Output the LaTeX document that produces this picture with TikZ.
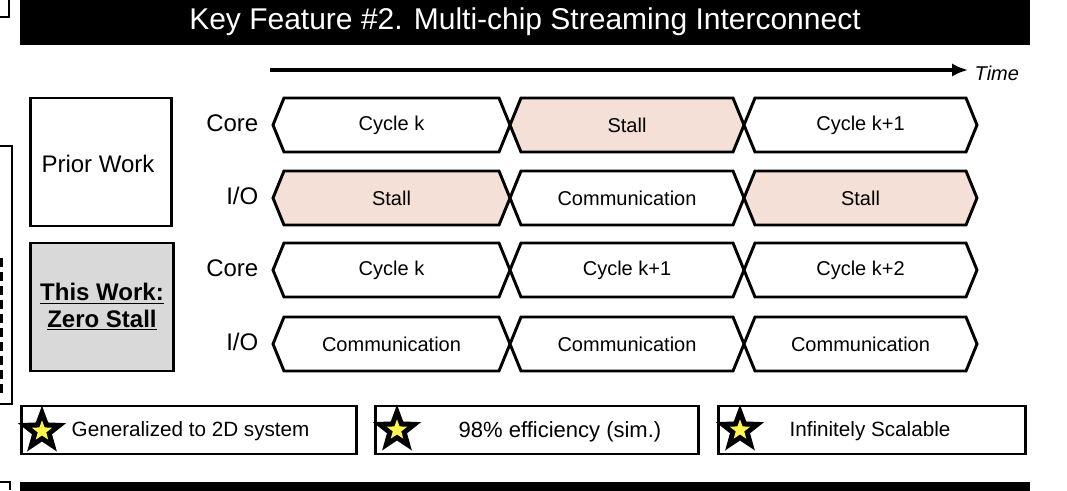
\documentclass[tikz,border=0pt]{standalone}
\usepackage{fontspec}
\setmainfont{Liberation Sans}
\usetikzlibrary{shapes.geometric,arrows.meta}
\begin{document}
\begin{tikzpicture}[x=0.75pt,y=-0.75pt,
  hx/.style={draw=black,line width=2.2pt,line join=miter},
  lbl/.style={font=\fontsize{15}{17}\selectfont},
  rl/.style={font=\fontsize{18}{20}\selectfont,anchor=east},
  box/.style={draw=black,line width=2.2pt},
  wt/.style={fill=white},
  stall/.style={fill={rgb,255:red,244;green,224;blue,214}}]
\useasboundingbox (0,0) rectangle (1067,490);
% title
\fill (20,0) rectangle (1030,45);
\node[text=white,font=\fontsize{22.5}{26}\selectfont] (title) at (525,22) {Key Feature \#2. Multi-chip Streaming Interconnect};
\draw[line width=1.5pt] (0,17) -- (9,17) -- (9,0);
% time arrow
\coordinate (t0) at (270,70); \coordinate (t1) at (968,70);
\draw[line width=3pt,-{Latex[length=12pt,width=10pt]}] (t0) -- (t1);
\node[font=\itshape\fontsize{15}{17}\selectfont,anchor=west] (time) at (970,73) {Time};
% left boxes
\node[box,minimum width=106pt,minimum height=96pt,inner sep=0pt] (prior) at (101,162) {};
\node[font=\fontsize{18}{20}\selectfont] at (98,164) {Prior Work};
\node[box,fill={rgb,255:red,217;green,217;blue,217},minimum width=107pt,minimum height=96pt] (this) at (102,307) {};
\node[font=\bfseries\fontsize{18}{21}\selectfont,align=center] at (102,307) {\underline{This Work:}\\[-1pt]\underline{Zero Stall}};
% left bracket
\draw[line width=2pt] (0,146) -- (12,146) -- (12,404) -- (0,404);
\foreach \y in {258,272,...,394} \draw[line width=2.5pt] (1,\y) -- (1,\y+9);
% hexagons
\foreach \row/\yc/\nm/\a/\b/\c/\fa/\fb/\fc in {
  1/125/Core/Cycle k/Stall/Cycle k+1/wt/stall/wt,
  2/198/I\slash O/Stall/Communication/Stall/stall/wt/stall,
  3/270/Core/Cycle k/Cycle k+1/Cycle k+2/wt/wt/wt,
  4/344/I\slash O/Communication/Communication/Communication/wt/wt/wt}{
  \node[rl] (r\row) at (263,\yc-2) {\nm};
  \foreach \i/\x/\xx/\t/\f in {1/273/510/\a/\fa,2/510/744/\b/\fb,3/744/977/\c/\fc}{
    \filldraw[hx,\f] (\x,\yc) -- (\x+11,\yc-27) -- (\xx-11,\yc-27) -- (\xx,\yc) -- (\xx-11,\yc+27) -- (\x+11,\yc+27) -- cycle;
    \node[lbl] (h\row\i) at ({(\x+\xx)/2},\yc) {\t};
  }
}
% feature boxes
\newcommand{\mystar}[1]{
  \node[star,star points=5,star point ratio=2.4,fill=black,minimum size=38pt,inner sep=0pt] at #1 {};
  \node[star,star points=5,star point ratio=2.4,fill=yellow!70!white,minimum size=16pt,inner sep=0pt] at #1 {};}
\node[box,minimum width=251pt,minimum height=36pt,inner sep=0pt] (f1) at (189,430) {};
\mystar{(42,431)}
\node[lbl,font=\fontsize{15.5}{17}\selectfont,anchor=west] at (67,431) {Generalized to 2D system};
\node[box,minimum width=242pt,minimum height=36pt,inner sep=0pt] (f2) at (537,430) {};
\mystar{(397,430)}
\node[font=\fontsize{16.5}{18}\selectfont] at (560,432) {98\% efficiency (sim.)};
\node[box,minimum width=230pt,minimum height=36pt,inner sep=0pt] (f3) at (872,430) {};
\mystar{(740,430)}
\node[lbl,font=\fontsize{15.5}{17}\selectfont] at (870,431) {Infinitely Scalable};
% bottom bar
\fill (20,482) rectangle (1030,495);
\draw[line width=2pt] (0,482) -- (10,482) -- (10,490);
\end{tikzpicture}
\end{document}
